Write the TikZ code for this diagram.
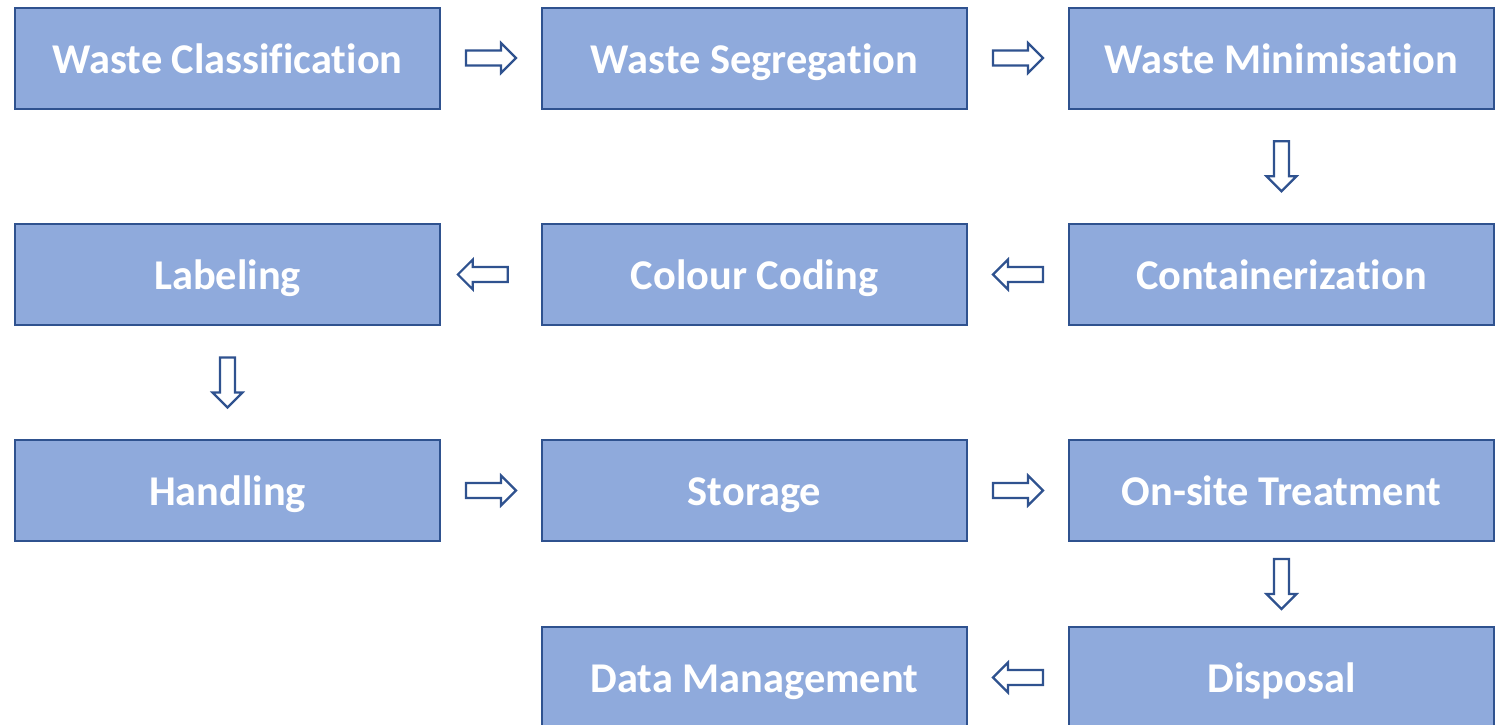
\documentclass[tikz,border=0pt]{standalone}
\usepackage{fontspec}
\setmainfont{Carlito}[Ligatures=NoCommon]
\usetikzlibrary{positioning,calc}
\definecolor{boxfill}{HTML}{8FAADC}
\definecolor{boxline}{HTML}{2F528F}
\tikzset{
  stage/.style={draw=boxline, line width=1pt, fill=boxfill, text=white,
    font=\fontsize{21.2}{25}\selectfont\bfseries,
    text height=20pt, text depth=5pt,
    minimum width=212.5pt, minimum height=50.5pt, inner sep=0pt, outer sep=0pt},
  blockarrow/.pic={
    \draw[boxline, line width=1.1pt, fill=white, line join=miter]
      (-25,-7.5) -- (10,-7.5) -- (10,-15) -- (25,0) -- (10,15) -- (10,7.5) -- (-25,7.5) -- cycle;
  }
}
\begin{document}
\begin{tikzpicture}[x=0.5pt, y=0.5pt]
	  \useasboundingbox (0,0) rectangle (1506,-724);
	  % first row
	  \node[stage] (classif) at (227.5,-58) {Waste Classification};
	  \node[stage, right=51pt of classif] (segreg) {Waste Segregation};
	  \node[stage, right=51pt of segreg] (minim) {Waste Minimisation};
	  % second row, right to left
	  \node[stage, below=57.75pt of minim] (contain) {Containerization};
	  \node[stage, left=51pt of contain] (colour) {Colour Coding};
	  \node[stage, left=51pt of colour] (label) {Labeling};
	  % third row
	  \node[stage, below=57.5pt of label] (handl) {Handling};
	  \node[stage, right=51pt of handl] (stor) {Storage};
	  \node[stage, right=51pt of stor] (treat) {On-site Treatment};
	  % last row
	  \node[stage, below=43pt of treat] (dispo) {Disposal};
	  \node[stage, left=51pt of dispo] (datam) {Data Management};

	  \pic at ($(classif.east)!0.5!(segreg.west)$) {blockarrow};
	  \pic at ($(segreg.east)!0.5!(minim.west)$) {blockarrow};
	  \pic[rotate=-90] at ($(minim.south)!0.5!(contain.north)$) {blockarrow};
	  \pic[rotate=180] at ($(contain.west)!0.5!(colour.east)$) {blockarrow};
	  \pic[rotate=180] at ($(colour.west)!0.58!(label.east)$) {blockarrow};
	  \pic[rotate=-90] at ($(label.south)!0.5!(handl.north)$) {blockarrow};
	  \pic at ($(handl.east)!0.5!(stor.west)$) {blockarrow};
	  \pic at ($(stor.east)!0.5!(treat.west)$) {blockarrow};
	  \pic[rotate=-90] at ($(treat.south)!0.5!(dispo.north)$) {blockarrow};
	  \pic[rotate=180] at ($(dispo.west)!0.5!(datam.east)$) {blockarrow};
\end{tikzpicture}
\end{document}
